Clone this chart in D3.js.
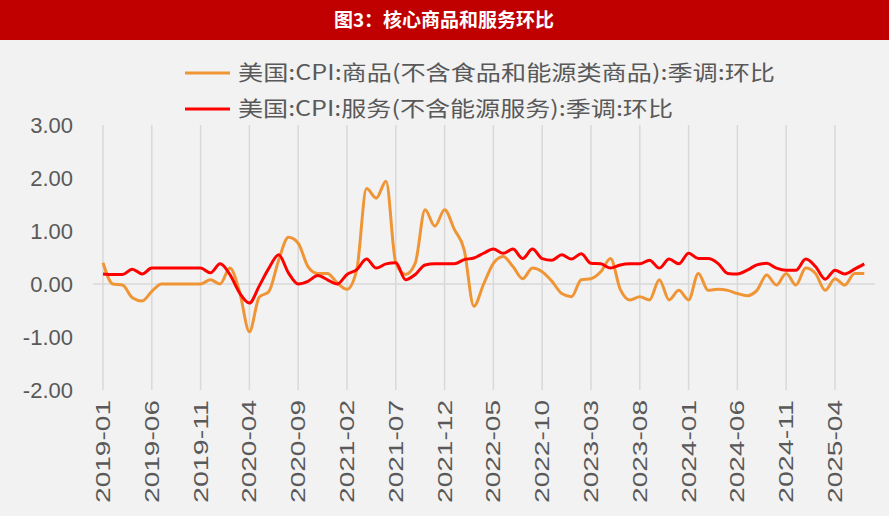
<!DOCTYPE html><html><head><meta charset="utf-8">
<script src="https://cdn.jsdelivr.net/npm/d3@7"></script>
<style>body{margin:0;background:#f2f2f2}</style></head><body><svg id="c" width="889" height="516"></svg>
<script>
const title="图3：核心商品和服务环比";
const seriesNames=["美国:CPI:商品(不含食品和能源类商品):季调:环比","美国:CPI:服务(不含能源服务):季调:环比"];
const yTicks=[3,2,1,0,-1,-2];
const goods=[0.40,0,-0.02,-0.26,-0.32,-0.14,0,0,0,0,0,0.08,0,0.3,-0.15,-0.9,-0.25,-0.14,0.45,0.88,0.77,0.33,0.2,0.2,0.02,-0.1,0.27,1.8,1.62,1.94,0.4,0.18,0.4,1.4,1.09,1.4,1.03,0.65,-0.42,0.0,0.39,0.52,0.33,0.1,0.3,0.23,0.05,-0.18,-0.24,0.08,0.1,0.23,0.48,-0.1,-0.3,-0.24,-0.3,0.08,-0.3,-0.12,-0.3,0.2,-0.12,-0.1,-0.12,-0.18,-0.22,-0.12,0.17,-0.02,0.2,-0.02,0.3,0.2,-0.12,0.1,-0.02,0.2,0.2];
const services=[0.19,0.18,0.18,0.28,0.19,0.3,0.3,0.3,0.3,0.3,0.3,0.21,0.38,0.18,-0.17,-0.36,-0.04,0.3,0.55,0.21,0,0.05,0.16,0.08,0,0.18,0.27,0.47,0.3,0.38,0.4,0.08,0.18,0.36,0.38,0.38,0.38,0.46,0.49,0.58,0.66,0.58,0.66,0.48,0.66,0.48,0.45,0.55,0.47,0.57,0.39,0.38,0.3,0.36,0.38,0.38,0.45,0.3,0.47,0.38,0.58,0.48,0.48,0.39,0.2,0.19,0.26,0.36,0.39,0.3,0.26,0.26,0.47,0.33,0.09,0.26,0.19,0.28,0.38];
const months=goods.map((_,i)=>{const y=2019+Math.floor(i/12),m=i%12+1;return y+"-"+String(m).padStart(2,"0");});
const svg=d3.select("#c");
svg.append("rect").attr("width",889).attr("height",516).attr("fill","#f2f2f2");
svg.append("rect").attr("width",889).attr("height",40).attr("fill","#c00000");
svg.append("text").attr("x",444).attr("y",27).attr("text-anchor","middle").attr("fill","#fff").attr("font-size",19).attr("font-weight","bold").attr("font-family","Noto Sans CJK SC").text(title);
const x=d3.scaleLinear().domain([0,months.length-1]).range([103,103+9.76*(months.length-1)]);
const y=d3.scaleLinear().domain([-2,3]).range([390,125]);
const g=svg.append("g");
months.forEach((m,i)=>{if(i%5===0)g.append("line").attr("x1",x(i)).attr("x2",x(i)).attr("y1",125).attr("y2",390).attr("stroke","#d9d9d9").attr("stroke-width",1.5);});
g.append("line").attr("x1",93).attr("x2",875).attr("y1",y(0)).attr("y2",y(0)).attr("stroke","#d9d9d9").attr("stroke-width",1.5);
yTicks.forEach(t=>svg.append("text").attr("x",73).attr("y",y(t)+8).attr("text-anchor","end").attr("font-size",22).attr("fill","#595959").attr("font-family","Liberation Sans").text(t.toFixed(2)));
months.forEach((m,i)=>{if(i%5===0)svg.append("text").attr("transform",`translate(${x(i)+7},400) rotate(-90)`).attr("text-anchor","end").attr("font-size",21).attr("fill","#595959").attr("font-family","Liberation Sans").attr("textLength",103).attr("lengthAdjust","spacingAndGlyphs").text(m);});
const line=d3.line().x((d,i)=>x(i)).y(d=>y(d)).curve(d3.curveMonotoneX);
svg.append("path").datum(goods).attr("d",line).attr("fill","none").attr("stroke","#f09536").attr("stroke-width",3);
svg.append("path").datum(services).attr("d",line).attr("fill","none").attr("stroke","#ff0000").attr("stroke-width",3);
[["#f09536",73,537],["#ff0000",109,435]].forEach(([c,yy,w],k)=>{svg.append("line").attr("x1",185).attr("x2",230).attr("y1",yy).attr("y2",yy).attr("stroke",c).attr("stroke-width",3);
svg.append("text").attr("x",238).attr("y",yy+7).attr("font-size",21).attr("fill","#595959").attr("font-family","Noto Sans CJK SC").attr("textLength",w).attr("lengthAdjust","spacingAndGlyphs").text(seriesNames[k]);});
</script></body></html>
